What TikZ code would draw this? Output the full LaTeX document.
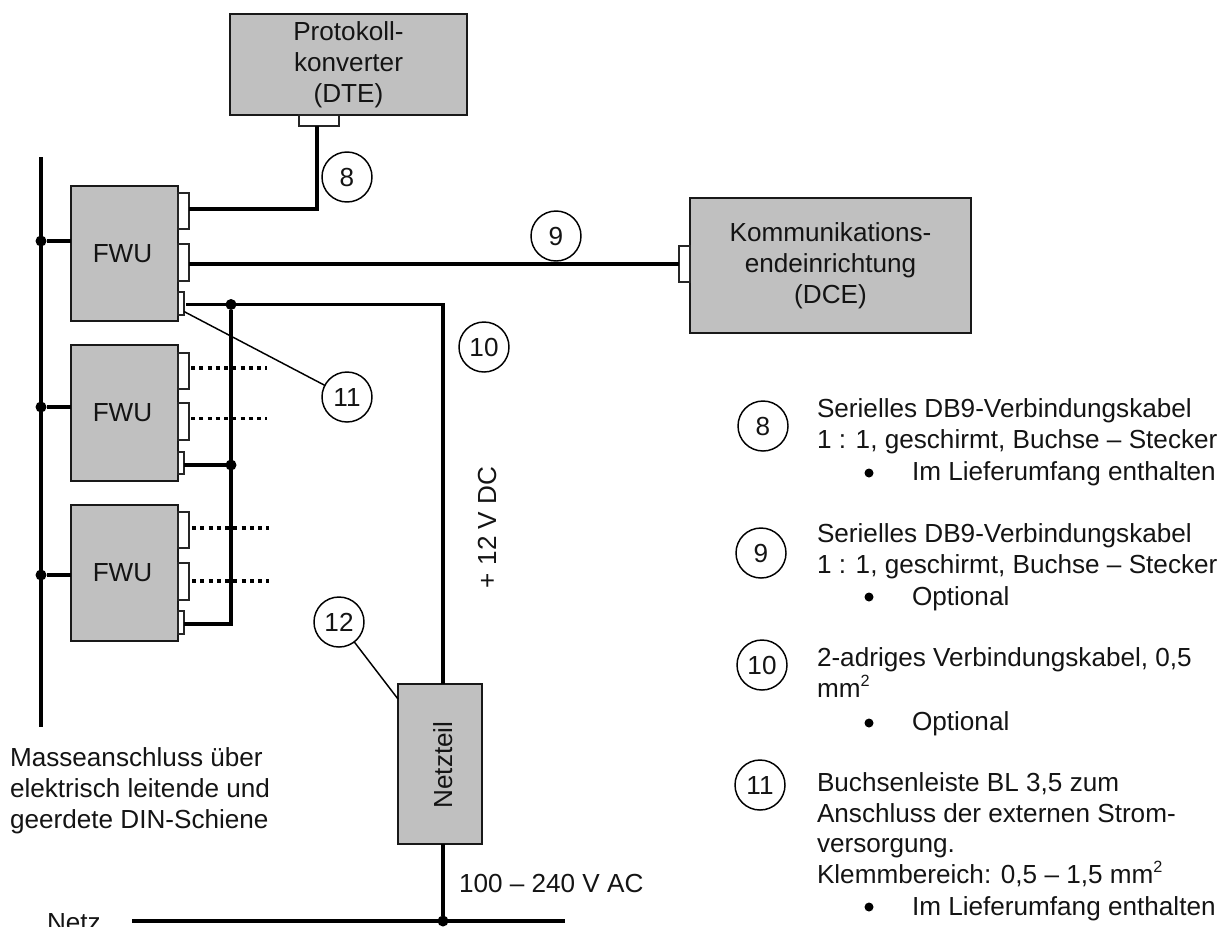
\documentclass[tikz,border=0pt]{standalone}
\usepackage{fontspec}
\setmainfont{Liberation Sans}
\newcommand{\fs}{\fontsize{19.6pt}{23.2pt}\selectfont}
\newcommand{\sq}{\raisebox{0.42em}{\fontsize{12.2pt}{12.2pt}\selectfont 2}}
\tikzset{
  x=0.75pt,y=-0.75pt,
  every node/.style={inner sep=0pt,outer sep=0pt,text=black!92},
  gbox/.style 2 args={draw=black!90,fill={rgb,255:red,192;green,192;blue,192},line width=1.7pt,minimum width=#1*0.75pt,minimum height=#2*0.75pt,align=center,font=\fs},
  port/.style 2 args={draw=black!85,fill=white,line width=1pt,minimum width=#1*0.75pt,minimum height=#2*0.75pt},
  wire/.style={line width=2.6pt,draw=black},
  thin wire/.style={line width=1.1pt,draw=black},
  dotwire/.style={line width=2.5pt,draw=black,dash pattern=on 3.1pt off 3.1pt},
  dot/.style={circle,fill=black,minimum size=11*0.75pt},
  num/.style={circle,draw=black,fill=white,line width=1.1pt,minimum size=50*0.75pt,font=\fs},
  lbl/.style={anchor=base west,font=\fs},
  bul/.style={circle,fill=black,minimum size=9*0.75pt},
}
\begin{document}
\begin{tikzpicture}
\useasboundingbox (0,0) rectangle (1226,926);
\clip (0,0) rectangle (1226,926);
% junction coordinates
\coordinate (railtop) at (41,157);
\coordinate (railbot) at (41,727);
\coordinate (j1) at (317,209);
\coordinate (j3) at (443,304.5);
\coordinate (j4) at (231,624);
\coordinate (d1a) at (267,368);
\coordinate (d1b) at (267,418.5);
\coordinate (d2a) at (269,528);
\coordinate (d2b) at (269,581);
\coordinate (netzl) at (132,921);
\coordinate (netzr) at (565,921);
\coordinate (nta) at (398,699);
% rail
\draw[wire] (railtop) -- (railbot);
% boxes
\node[gbox={237}{101}] (dte) at (348.5,64.5) {Protokoll-\\konverter\\(DTE)};
\node[gbox={281}{135}] (dce) at (830.5,265.5) {Kommunikations-\\endeinrichtung\\(DCE)};
\node[gbox={107}{135}] (f1) at (124.5,253.5) {FWU\hspace{3pt}};
\node[gbox={107}{136}] (f2) at (124.5,413) {FWU\hspace{3pt}};
\node[gbox={107}{136}] (f3) at (124.5,573) {FWU\hspace{3pt}};
\node[gbox={160}{84},rotate=90] (nt) at (440,764) {};
\node[font=\fs,rotate=90] (ntl) at (443,765) {Netzteil};
% ports
\node[port={40}{11}] (pd) at (319,120.5) {};
\node[port={11}{36}] (pc) at (684.5,264) {};
\node[port={11}{36}] (p1a) at (183.5,211) {};
\node[port={11}{37}] (p1b) at (183.5,262.5) {};
\node[port={6}{23}] (p1c) at (181,303.5) {};
\node[port={11}{36}] (p2a) at (183.5,371) {};
\node[port={11}{37}] (p2b) at (183.5,421.5) {};
\node[port={6}{22}] (p2c) at (181,463) {};
\node[port={11}{36}] (p3a) at (183.5,530) {};
\node[port={11}{37}] (p3b) at (183.5,581.5) {};
\node[port={6}{23}] (p3c) at (181,622.5) {};
% dots
\node[dot] (g1) at (41,241) {};
\node[dot] (g2) at (41,407) {};
\node[dot] (g3) at (41,575) {};
\node[dot] (k1) at (231,304.5) {};
\node[dot] (k2) at (231,465) {};
\node[dot] (k3) at (443,921) {};
% wires
\draw[wire] (g1) -- (f1.west |- g1);
\draw[wire] (g2) -- (f2.west |- g2);
\draw[wire] (g3) -- (f3.west |- g3);
\draw[wire] (p1a.east |- j1) -- (j1) -- (j1 |- pd.south);
\draw[wire] (p1b.east |- pc) -- (pc.west);
\draw[wire] (p1c.east |- j3) ++(2,0) -- (j3) -- (j3 |- nt.east);
\draw[wire] (k1) -- (j4) -- (p3c.east |- j4);
\draw[wire] (k2) -- (p2c.east |- k2);
\draw[wire] (k3 |- nt.west) -- (k3);
\draw[wire] (netzl) -- (netzr);
\draw[dotwire] (p2a.east |- d1a) ++(2,0) -- (d1a);
\draw[dotwire] (p2b.east |- d1b) ++(2,0) -- (d1b);
\draw[dotwire] (p3a.east |- d2a) ++(3,0) -- (d2a);
\draw[dotwire] (p3b.east |- d2b) ++(3,0) -- (d2b);
% number circles
\node[num] (n8) at (347,177) {8};
\node[num] (n9) at (556,236) {9};
\node[num] (n10) at (484,347) {10};
\node[num] (n11) at (347,397) {11};
\node[num] (n12) at (339,622) {12};
\draw[thin wire] (p1c.east) ++(0,8) -- (n11);
\draw[thin wire] (n12) -- (nta);
% plain labels
\node[lbl,rotate=90] (v12) at (496,588) {+ 12 V DC};
\node[lbl] (ac) at (459,892) {100 -- 240 V AC};
\node[lbl] (netz) at (47,931) {Netz};
\node[lbl] (m1) at (10,766) {Masseanschluss über};
\node[lbl] (m2) at (10,797) {elektrisch leitende und};
\node[lbl] (m3) at (10,828) {geerdete DIN-Schiene};
% legend
\node[num] (l8) at (763,426) {8};
\node[num] (l9) at (761,553) {9};
\node[num] (l10) at (762,665) {10};
\node[num] (l11) at (760,785) {11};
\node[lbl] (t1) at (817,417) {Serielles DB9-Verbindungskabel};
\node[lbl] (t2) at (817,448) {1 : 1, geschirmt, Buchse -- Stecker};
\node[lbl] (t3) at (912,480) {Im Lieferumfang enthalten};
\node[bul] (b1) at (869,473) {};
\node[lbl] (t4) at (817,542) {Serielles DB9-Verbindungskabel};
\node[lbl] (t5) at (817,573) {1 : 1, geschirmt, Buchse -- Stecker};
\node[lbl] (t6) at (912,605) {Optional};
\node[bul] (b2) at (869,597) {};
\node[lbl] (t7) at (817,666) {2-adriges Verbindungskabel, 0,5};
\node[lbl] (t8) at (817,697) {mm\sq};
\node[lbl] (t9) at (912,730) {Optional};
\node[bul] (b3) at (869,723) {};
\node[lbl] (t10) at (817,791) {Buchsenleiste BL 3,5 zum};
\node[lbl] (t11) at (817,822) {Anschluss der externen Strom-};
\node[lbl] (t12) at (817,852) {versorgung.};
\node[lbl] (t13) at (817,883) {Klemmbereich: 0,5 -- 1,5 mm\sq};
\node[lbl] (t14) at (912,915) {Im Lieferumfang enthalten};
\node[bul] (b4) at (869,907) {};
\end{tikzpicture}
\end{document}
